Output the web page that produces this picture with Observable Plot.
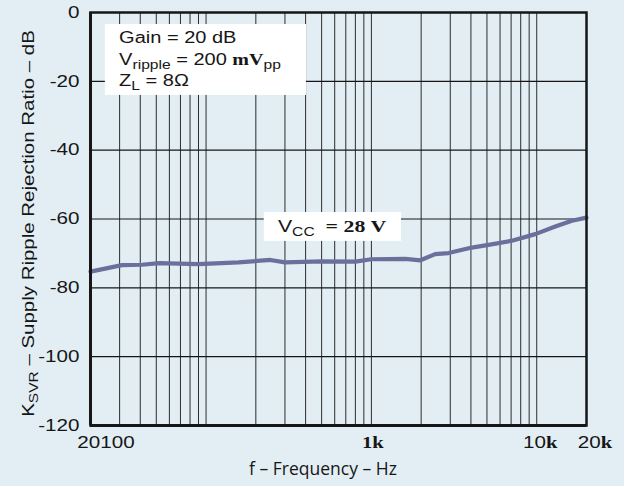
<!DOCTYPE html>
<html>
<head>
<meta charset="utf-8">
<script src="https://cdn.jsdelivr.net/npm/d3@7"></script>
<script src="https://cdn.jsdelivr.net/npm/@observablehq/plot@0.6"></script>
<style>
  html, body { margin: 0; padding: 0; background: #e3eef4; }
  #chart { width: 624px; height: 486px; }
</style>
</head>
<body>
<div id="chart"></div>
<script>
// ---- data ----
const freqHz = [20, 31, 41, 52, 90, 157, 245, 300, 500, 800, 1000, 1600, 1980, 2430, 2930, 4050, 5110, 7080, 9800, 12950, 16320, 20000];
const ksvrDb = [-75.3, -73.4, -73.3, -72.8, -73.1, -72.6, -71.9, -72.6, -72.3, -72.4, -71.7, -71.6, -72.0, -70.2, -69.9, -68.3, -67.5, -66.3, -64.4, -62.2, -60.5, -59.6];

const yTicks = [0, -20, -40, -60, -80, -100, -120];
const xGrid = [30, 40, 50, 60, 70, 80, 90, 100, 200, 300, 400, 500, 600, 700, 800, 900, 1000, 2000, 3000, 4000, 5000, 6000, 7000, 8000, 9000, 10000];
const yGrid = [-20, -40, -60, -80, -100];
const xTickValues = [20, 1000, 10000, 20000];
const xTickLabels = ["20100", "1k", "10k", "20k"];

const xTitle = "f – Frequency – Hz";
const yTitleMain = "K";
const yTitleSub = "SVR";
const yTitleRest = " – Supply Ripple Rejection Ratio – dB";

// annotation boxes (in data units: Hz, dB)
const noteBoxes = [
  {x1: 24.6, x2: 405, y1: -3.5, y2: -24.1},
  {x1: 225, x2: 1520, y1: -58.1, y2: -66.5}
];
const note1X = 30;
const note1Y = [-8.9, -15.4, -21.5];
const note1Lines = [
  [{t: "Gain = 20 dB"}],
  [{t: "V"}, {t: "ripple", sub: true}, {t: " = 200 "}, {t: "mV", bold: true}, {t: "pp", sub: true}],
  [{t: "Z"}, {t: "L", sub: true}, {t: " = 8Ω"}]
];
const note2X = 274;
const note2Y = -64.0;
const note2Line = [{t: "V"}, {t: "CC", sub: true}, {t: "  = 28 V", bold: true, big: true}];

// ---- chart ----
const BG = "#e3eef4";
const INK = "#161616";
const SANS = "'Liberation Sans', Arial, sans-serif";
const SERIF = "'Liberation Serif', 'DejaVu Serif', serif";
const STRETCH = 1.25;

const chart = Plot.plot({
  width: 624,
  height: 486,
  marginLeft: 90,
  marginRight: 38,
  marginTop: 12,
  marginBottom: 61,
  style: {background: BG, fontFamily: SANS, color: INK, overflow: "visible"},
  x: {type: "log", domain: [20, 20000], axis: null},
  y: {domain: [-120, 0], axis: null},
  marks: [
    Plot.ruleX(xGrid, {stroke: INK, strokeWidth: 0.9}),
    Plot.ruleY(yGrid, {stroke: INK, strokeWidth: 1.1}),
    Plot.rect(noteBoxes, {x1: "x1", x2: "x2", y1: "y1", y2: "y2", fill: "white"}),
    Plot.line(freqHz.map((f, i) => ({f, v: ksvrDb[i]})), {
      x: "f", y: "v", stroke: "#6b6f9c", strokeWidth: 4.2, strokeLinejoin: "round", strokeLinecap: "round"
    }),
    Plot.frame({stroke: INK, strokeWidth: 2.5}),
    Plot.ruleX([20], {stroke: INK, strokeWidth: 3}),
    Plot.ruleY([-120], {stroke: INK, strokeWidth: 3}),
    Plot.axisY(yTicks, {
      tickSize: 0, tickPadding: 11, fontSize: 16.5, fill: INK,
      tickFormat: d => String(d), anchor: "left", label: null
    })
  ]
});

document.getElementById("chart").appendChild(chart);

const svg = d3.select(chart);
const sx = chart.scale("x");
const sy = chart.scale("y");

// stretch y tick labels horizontally like the reference
svg.selectAll("[aria-label='y-axis tick label'] text").each(function() {
  const t = this.getAttribute("transform") || "";
  this.setAttribute("transform", t + ` scale(${STRETCH},1)`);
});

const g = svg.append("g").attr("fill", INK).attr("font-family", SANS).attr("font-size", 16);

function richText(parent, x, y, parts, opts = {}) {
  const text = parent.append("text")
    .attr("transform", `translate(${x},${y})${opts.rotate ? ` rotate(${opts.rotate})` : ""} scale(${opts.stretch ?? STRETCH},1)`)
    .attr("text-anchor", opts.anchor || "start")
    .attr("xml:space", "preserve")
    .style("white-space", "pre");
  if (opts.size) text.attr("font-size", opts.size);
  let shift = 0;
  for (const p of parts) {
    const ts = text.append("tspan").text(p.t);
    const target = p.sub ? 3.5 : 0;
    if (target !== shift) { ts.attr("dy", target - shift); shift = target; }
    if (p.sub) ts.attr("font-size", 12.5);
    if (p.bold) ts.attr("font-family", SERIF).attr("font-weight", "bold");
    if (p.big) ts.attr("font-size", 17.5);
  }
  return text;
}

// annotation text
note1Lines.forEach((line, i) => richText(g, sx.apply(note1X), sy.apply(note1Y[i]), line));
richText(g, sx.apply(note2X), sy.apply(note2Y), note2Line, {size: 17});

// x tick labels
const xTickDx = [16, 2, 4, 9];
const baseY = sy.apply(-120) + 23;
xTickValues.forEach((v, i) => {
  const lab = xTickLabels[i];
  const parts = [];
  const m = lab.match(/^(\d+)(k?)$/);
  if (m[2]) {
    parts.push({t: m[1], bold: m[1] === "1"});
    parts.push({t: "k", bold: true});
  } else parts.push({t: lab});
  richText(g, sx.apply(v) + xTickDx[i], baseY, parts, {anchor: "middle", size: 16.5});
});

// y title
const yMid = (sy.apply(0) + sy.apply(-120)) / 2 + 5;
richText(g, sx.apply(20) - 56, yMid, [{t: yTitleMain}, {t: yTitleSub, sub: true}, {t: yTitleRest}], {anchor: "middle", rotate: -90, size: 16.5, stretch: 1.24});

// x title
const xMid = (sx.apply(20) + sx.apply(20000)) / 2 - 15;
g.append("text")
  .attr("x", xMid).attr("y", 475)
  .attr("text-anchor", "middle")
  .attr("font-family", "'Open Sans', sans-serif")
  .attr("font-size", 17.5)
  .text(xTitle);
</script>
</body>
</html>
